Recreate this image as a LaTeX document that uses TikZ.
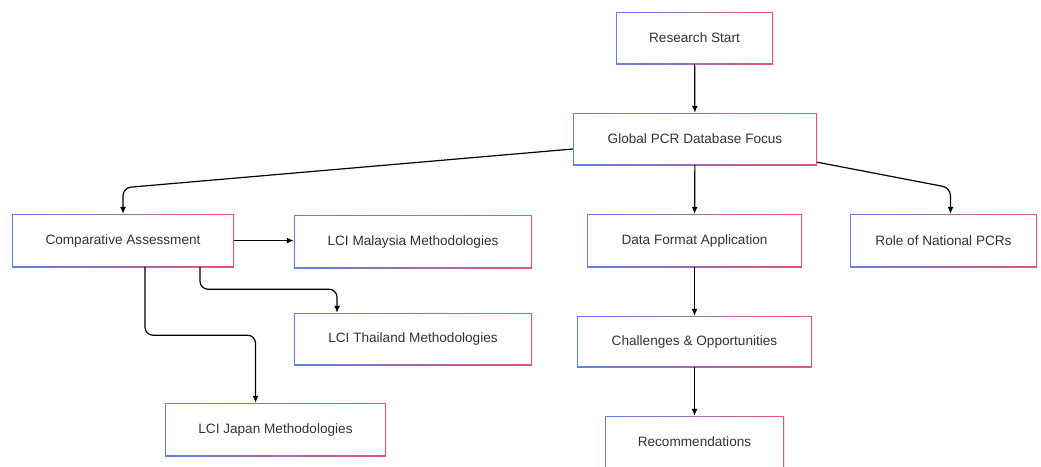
\documentclass[tikz,border=0pt]{standalone}
\usepackage{fontspec}
\setmainfont{Liberation Sans}
\usetikzlibrary{arrows.meta}
\definecolor{bluB}{HTML}{5F82E4}
\definecolor{pinkB}{HTML}{E2567C}
\definecolor{txt}{HTML}{333333}
\begin{document}
\begin{tikzpicture}[x=1pt, y=-1pt,
	box/.style={fill=white, inner sep=0pt, minimum height=52pt, text=txt,
		font=\fontsize{13.6}{16}\selectfont,
		path picture={\shade[left color=bluB, right color=pinkB]
			(path picture bounding box.south west) rectangle (path picture bounding box.north east);
			\fill[white] ([shift={(1.4pt,1.4pt)}]path picture bounding box.south west)
			rectangle ([shift={(-1.4pt,-1.4pt)}]path picture bounding box.north east);}},
	link/.style={draw=black, line width=1.2pt, rounded corners=8pt, -{Latex[length=7pt,width=6pt]}}]
	\useasboundingbox (0,0) rectangle (1041,466);
	\node [box, minimum width=157pt] (start) at (694.5,38) {Research Start};
	\node [box, minimum width=244pt] (global) at (695,139) {Global PCR Database Focus};
	\node [box, minimum width=222pt, minimum height=53pt] (comp) at (123,240.5) {Comparative Assessment};
	\node [box, minimum width=238pt, minimum height=53pt] (malaysia) at (413,241.5) {LCI Malaysia Methodologies};
	\node [box, minimum width=238pt] (thailand) at (413,339) {LCI Thailand Methodologies};
	\node [box, minimum width=221pt, minimum height=53pt] (japan) at (275.5,429.5) {LCI Japan Methodologies};
	\node [box, minimum width=215pt, minimum height=53pt] (dataformat) at (694.5,240.5) {Data Format Application};
	\node [box, minimum width=187pt, minimum height=53pt] (role) at (943.5,240.5) {Role of National PCRs};
	\node [box, minimum width=235pt, minimum height=51pt] (challenges) at (694.5,341.5) {Challenges \& Opportunities};
	\node [box, minimum width=179pt] (recom) at (694.5,442) {Recommendations};
	\draw [link] (start) -- (global);
	\draw [link] ([yshift=-10pt]global.west) -- ([yshift=26pt]comp.north) -- (comp.north);
	\draw [link] ([yshift=3pt]global.south east) -- ([xshift=7pt,yshift=26pt]role.north) -- ([xshift=7pt]role.north);
	\draw [link] (global) -- (dataformat);
	\draw [link] (comp.east) -- (comp.east -| malaysia.west);
	\draw [link] ([xshift=77pt]comp.south) -- ++(0,22) -| ([xshift=-76pt]thailand.north);
	\draw [link] ([xshift=22pt]comp.south) -- ++(0,68) -| ([xshift=-20pt]japan.north);
	\draw [link] (dataformat) -- (challenges);
	\draw [link] (challenges) -- (recom);
\end{tikzpicture}
\end{document}
